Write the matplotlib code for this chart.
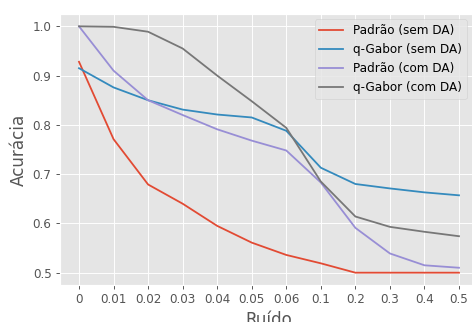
import matplotlib
matplotlib.use("Agg")
import matplotlib.pyplot as plt

plt.style.use("ggplot")

ruido = ["0", "0.01", "0.02", "0.03", "0.04", "0.05", "0.06", "0.1", "0.2", "0.3", "0.4", "0.5"]
padrao_sem_da = [0.928, 0.771, 0.679, 0.640, 0.595, 0.561, 0.536, 0.519, 0.500, 0.500, 0.500, 0.500]
qgabor_sem_da = [0.915, 0.876, 0.850, 0.831, 0.821, 0.815, 0.788, 0.713, 0.680, 0.671, 0.663, 0.657]
padrao_com_da = [1.000, 0.910, 0.850, 0.820, 0.791, 0.768, 0.748, 0.683, 0.591, 0.539, 0.515, 0.510]
qgabor_com_da = [1.000, 0.999, 0.989, 0.955, 0.900, 0.848, 0.794, 0.685, 0.614, 0.593, 0.583, 0.574]

dpi = 86.4
fig = plt.figure(figsize=(472 / dpi, 322 / dpi), dpi=dpi)
ax = fig.add_axes([60 / 472, 1 - 285 / 322, 418 / 472, 271 / 322])

ax.plot(ruido, padrao_sem_da, label="Padrão (sem DA)")
ax.plot(ruido, qgabor_sem_da, label="q-Gabor (sem DA)")
ax.plot(ruido, padrao_com_da, label="Padrão (com DA)")
ax.plot(ruido, qgabor_com_da, label="q-Gabor (com DA)")

ax.set_yticks([0.5, 0.6, 0.7, 0.8, 0.9, 1.0])
ax.set_xlabel("Ruído", fontsize=14)
ax.set_ylabel("Acurácia", fontsize=14)

ax.legend(loc="upper right", bbox_to_anchor=(466.7 / 472, 1 - 19.3 / 322),
          bbox_transform=fig.transFigure, borderaxespad=0)

fig.savefig("out.png", dpi=dpi)
